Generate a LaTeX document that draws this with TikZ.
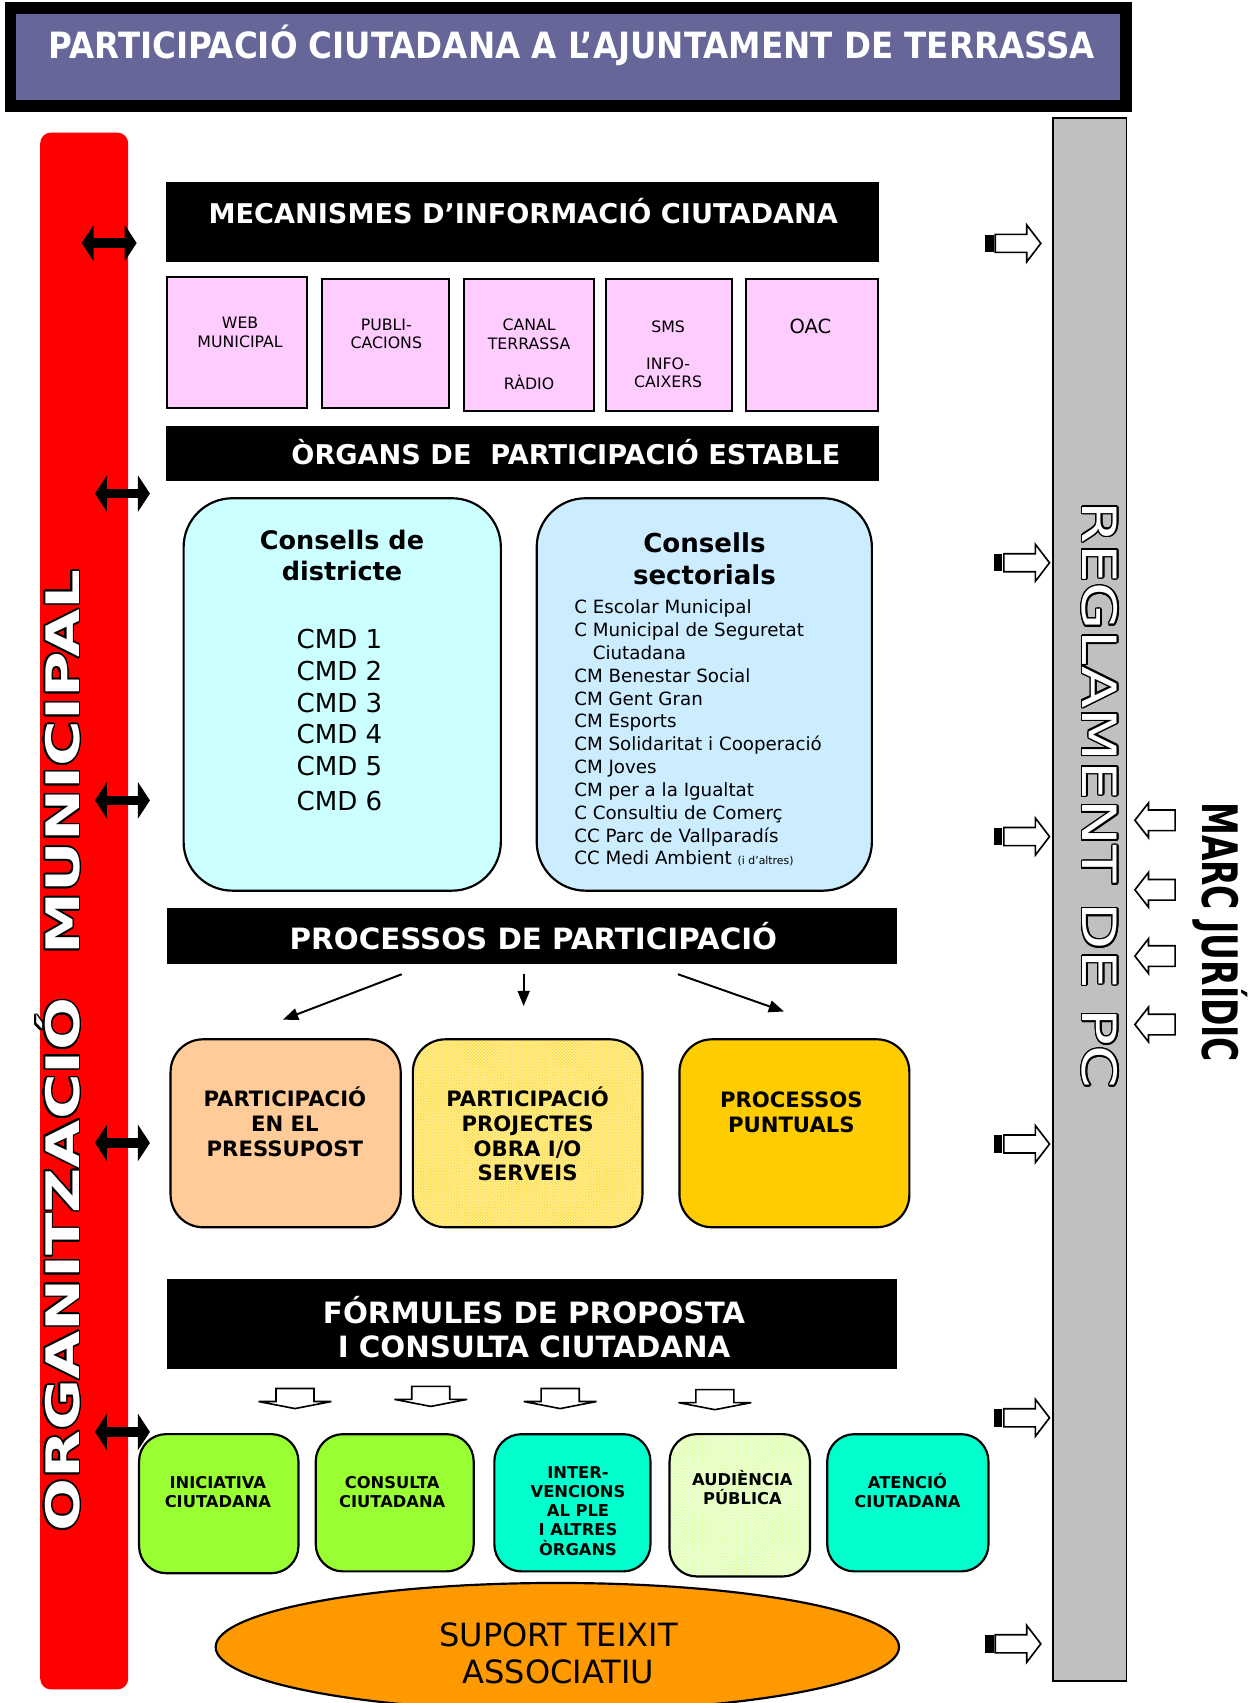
\documentclass[tikz,border=0pt]{standalone}
\usepackage{fontspec}
\setmainfont{DejaVu Sans}
\newfontfamily\condbf{DejaVu Sans Condensed Bold}
\newfontfamily\widebf{DejaVu Sans Bold}[FakeStretch=1.35]
\newfontfamily\widerg{DejaVu Sans}[FakeStretch=1.3]
\newfontfamily\narrbf{DejaVu Sans Condensed Bold}[FakeStretch=0.75]
\usepackage[copies]{contour}
\contourlength{1.5pt}
\usetikzlibrary{arrows.meta, positioning, patterns, shapes.geometric}
\definecolor{titblue}{RGB}{102, 102, 153}
\definecolor{infopink}{RGB}{255, 204, 255}
\definecolor{distcyan}{RGB}{204, 255, 255}
\definecolor{sectblue}{RGB}{204, 236, 255}
\definecolor{peach}{RGB}{255, 204, 153}
\definecolor{procgold}{RGB}{255, 204, 0}
\definecolor{paleyel}{RGB}{255, 236, 140}
\definecolor{iniclime}{RGB}{153, 255, 51}
\definecolor{palelime}{RGB}{236, 255, 214}
\definecolor{audlime}{RGB}{204, 255, 102}
\definecolor{aqua}{RGB}{0, 255, 204}
\definecolor{assocorange}{RGB}{255, 153, 0}
\definecolor{reglgray}{RGB}{192, 192, 192}

\begin{document}
\begin{tikzpicture}[x=1pt, y=-1pt,
  hdr/.style={fill=black, inner sep=0pt},
  wtxt/.style={text=white, inner sep=0pt, anchor=base},
  box/.style={draw=black, line width=2pt, inner sep=0pt},
  btxt/.style={inner sep=0pt, align=center},
  thinarr/.style={line width=1.8pt, -{Triangle[length=14pt, width=11pt]}},
  dblarr/.style={line width=9pt, {Triangle[length=11pt, width=33pt]}-{Triangle[length=11pt, width=33pt]}},
  toregl/.pic={\fill (0,-8) rectangle (7.5,8);
    \draw[fill=white, line width=1.5pt] (9,-8.3) -- (38,-8.3) -- (38,-17) -- (51,0) -- (38,17) -- (38,8.3) -- (9,8.3) -- cycle;},
  fromlaw/.pic={\draw[fill=white, line width=1.5pt] (0,0) -- (12.5,-16) -- (12.5,-9.5) -- (37,-9.5) -- (37,9.5) -- (12.5,9.5) -- (12.5,16) -- cycle;},
  downblk/.pic={\draw[fill=white, line width=1.5pt] (-17.5,0) -- (17.5,0) -- (17.5,12) -- (33.5,12) -- (0,18.5) -- (-33.5,12) -- (-17.5,12) -- cycle;}]

\useasboundingbox (0,0) rectangle (1157,1567.5);
\clip (0,0) rectangle (1157,1567.5);

\node[fill=titblue, draw=black, line width=10.5pt, minimum width=1026.8pt, minimum height=90.4pt] (ttlbox) at (522.9,52.5) {};
\node[wtxt, font=\condbf\fontsize{33.3}{33.3}\selectfont] (ttl) at (526.5,53.6) {PARTICIPACIÓ CIUTADANA A L’AJUNTAMENT DE TERRASSA};

\node[fill=red, rounded corners=10pt, minimum width=81pt, minimum height=1433pt, inner sep=0pt] (orgbar) at (77.5,838.5) {};
\node[rotate=90, text=white, inner sep=0pt, font=\widebf\fontsize{42.5}{42.5}\selectfont] (orgtxt) at (54.1,967) {\contour{black}{ORGANITZACIÓ\ \ MUNICIPAL}};

\node[fill=reglgray, draw=black, line width=1.5pt, minimum width=68pt, minimum height=1438.4pt, inner sep=0pt] (reglbar) at (1003,827.8) {};
\node[rotate=-90, text=white, inner sep=0pt, font=\widerg\fontsize{43.5}{43.5}\selectfont] (regltxt) at (1011.7,731.7) {\contour{black}{REGLAMENT DE PC}};
\node[rotate=-90, inner sep=0pt, font=\narrbf\fontsize{45}{45}\selectfont] (marc) at (1123.5,858) {MARC JURÍDIC};

\node[hdr, minimum width=656pt, minimum height=73.5pt] (mec) at (481,204.25) {};
\node[wtxt, font=\bfseries\fontsize{25}{25}\selectfont] (mect) at (481.6,205.8) {MECANISMES D’INFORMACIÓ CIUTADANA};

\node[box, fill=infopink, minimum width=128.7pt, minimum height=121.2pt] (web) at (218.35,315.2) {};
\node[box, fill=infopink, minimum width=117pt, minimum height=118.8pt] (publi) at (354.5,316.4) {};
\node[box, fill=infopink, minimum width=120pt, minimum height=121pt] (canal) at (487,317.5) {};
\node[box, fill=infopink, minimum width=116.2pt, minimum height=121pt] (sms) at (615.5,317.5) {};
\node[box, fill=infopink, minimum width=121.2pt, minimum height=121pt] (oac) at (747.4,317.5) {};
\node[btxt, font=\fontsize{14.5}{17}\selectfont] (webt) at (221,305.8) {WEB\\MUNICIPAL};
\node[btxt, font=\fontsize{14.5}{17}\selectfont] (publt) at (355.6,307.5) {PUBLI-\\CACIONS};
\node[btxt, font=\fontsize{14.5}{17}\selectfont] (canalt) at (487,326.2) {CANAL\\TERRASSA\\[19.8pt]RÀDIO};
\node[btxt, font=\fontsize{14.5}{17}\selectfont] (smst) at (615,326.2) {SMS\\[17pt]INFO-\\CAIXERS};
\node[wtxt, text=black, font=\fontsize{18}{18}\selectfont] (oact) at (746,306.6) {OAC};

\node[hdr, minimum width=656pt, minimum height=50.4pt] (organs) at (481,417.2) {};
\node[wtxt, font=\bfseries\fontsize{25}{25}\selectfont] (organst) at (520.9,427.1) {ÒRGANS DE\ \ PARTICIPACIÓ ESTABLE};

\node[box, fill=distcyan, rounded corners=45pt, minimum width=292pt, minimum height=361.2pt] (cdist) at (315,639.2) {};
\node[box, fill=sectblue, rounded corners=45pt, minimum width=308.5pt, minimum height=361.2pt] (csect) at (648.25,639.2) {};
\node[btxt, font=\bfseries\fontsize{23.5}{29}\selectfont] (cdistt) at (314.8,511.5) {Consells de\\districte};
\node[btxt, font=\fontsize{24}{29.3}\selectfont] (cmdt) at (312.5,662.8) {CMD 1\\CMD 2\\CMD 3\\CMD 4\\CMD 5\\[3pt]CMD 6};
\node[btxt, font=\bfseries\fontsize{24}{29.5}\selectfont] (csectt) at (648.4,514.3) {Consells\\sectorials};
\node[inner sep=0pt, align=left, anchor=west, font=\fontsize{16.8}{21}\selectfont] (cslist) at (528.4,674.8) {C Escolar Municipal\\C Municipal de Seguretat\\\hspace*{17pt}Ciutadana\\CM Benestar Social\\CM Gent Gran\\CM Esports\\CM Solidaritat i Cooperació\\CM Joves\\CM per a la Igualtat\\C Consultiu de Comerç\\CC Parc de Vallparadís\\CC Medi Ambient {\fontsize{10}{10}\selectfont(i d’altres)}};

\node[hdr, minimum width=672.3pt, minimum height=51.3pt] (proc) at (489.85,861.65) {};
\node[wtxt, font=\bfseries\fontsize{27}{27}\selectfont] (proct) at (491,873.5) {PROCESSOS DE PARTICIPACIÓ};

\node[box, fill=peach, rounded corners=30pt, minimum width=211.8pt, minimum height=173pt] (pres) at (262.9,1043.1) {};
\node[box, preaction={fill=paleyel}, pattern=crosshatch dots, pattern color=procgold, rounded corners=30pt, minimum width=211.3pt, minimum height=173pt] (obra) at (485.65,1043.1) {};
\node[box, fill=procgold, rounded corners=30pt, minimum width=211.6pt, minimum height=173pt] (punt) at (731.2,1043.1) {};
\node[btxt, font=\bfseries\fontsize{19.5}{23}\selectfont] (prest) at (262.2,1032.9) {PARTICIPACIÓ\\EN EL\\PRESSUPOST};
\node[btxt, font=\bfseries\fontsize{19.5}{22.8}\selectfont] (obrat) at (485.6,1043.9) {PARTICIPACIÓ\\PROJECTES\\OBRA I/O\\SERVEIS};
\node[btxt, font=\bfseries\fontsize{19.5}{23}\selectfont] (puntt) at (728.4,1023.4) {PROCESSOS\\PUNTUALS};

\node[hdr, minimum width=672.2pt, minimum height=83.1pt] (form) at (489.9,1218.75) {};
\node[btxt, text=white, font=\bfseries\fontsize{27}{31.5}\selectfont] (formt) at (491.6,1221.6) {FÓRMULES DE PROPOSTA\\I CONSULTA CIUTADANA};

\node[box, fill=iniclime, rounded corners=25pt, minimum width=146.7pt, minimum height=128pt] (inic) at (201.35,1384) {};
\node[box, fill=iniclime, rounded corners=25pt, minimum width=145.4pt, minimum height=126.3pt] (cons) at (363.3,1383.2) {};
\node[box, fill=aqua, rounded corners=25pt, minimum width=143.7pt, minimum height=126.3pt] (inter) at (526.85,1383.2) {};
\node[box, preaction={fill=palelime}, pattern=crosshatch dots, pattern color=audlime, rounded corners=25pt, minimum width=129.2pt, minimum height=131pt] (aud) at (680.9,1385.5) {};
\node[box, fill=aqua, rounded corners=25pt, minimum width=148.4pt, minimum height=126.3pt] (aten) at (835.6,1383.2) {};
\node[btxt, font=\bfseries\fontsize{15}{18}\selectfont] (inict) at (200.5,1373.3) {INICIATIVA\\CIUTADANA};
\node[btxt, font=\bfseries\fontsize{15}{18}\selectfont] (const) at (361,1373.3) {CONSULTA\\CIUTADANA};
\node[btxt, font=\bfseries\fontsize{15}{17.7}\selectfont] (intert) at (532,1390.6) {INTER-\\VENCIONS\\AL PLE\\I ALTRES\\ÒRGANS};
\node[btxt, font=\bfseries\fontsize{15}{17}\selectfont] (audt) at (683.3,1369) {AUDIÈNCIA\\PÚBLICA};
\node[btxt, font=\bfseries\fontsize{15}{18}\selectfont] (atent) at (835.3,1371.8) {ATENCIÓ\\CIUTADANA};

\node[ellipse, draw=black, line width=2pt, fill=assocorange, minimum width=629pt, minimum height=118pt, inner sep=0pt] (suport) at (513,1516) {};
\node[btxt, font=\fontsize{29.5}{33.7}\selectfont] (suportt) at (514,1521.8) {SUPORT TEIXIT\\ASSOCIATIU};

\draw[thinarr] ([xshift=-120.05pt, yshift=-9.2pt]proc.south) -- ([xshift=-2.4pt, yshift=17.1pt]pres.north);
\draw[thinarr] ([xshift=-7.85pt, yshift=-8.6pt]proc.south) -- ([xshift=-3.65pt, yshift=29.6pt]obra.north);
\draw[thinarr] ([xshift=134.15pt, yshift=-9.2pt]proc.south) -- ([xshift=-9.6pt, yshift=24.6pt]punt.north);

\foreach \x/\y in {271.5/1278, 396.5/1276, 515.6/1278, 658/1279}
  \pic at (\x,\y) {downblk};
\foreach \x/\y in {907/224, 915/518, 915/770, 915/1053, 915/1305, 907/1513}
  \pic at (\x,\y) {toregl};
\foreach \y in {755, 819, 880, 943}
  \pic at (1044.6,\y) {fromlaw};
\foreach \x/\y in {75.2/223.7, 87.4/454.3, 87.4/736.7, 87.4/1052, 87.4/1318}
  \draw[dblarr] (\x,\y) -- ++(50.6,0);
\end{tikzpicture}
\end{document}
